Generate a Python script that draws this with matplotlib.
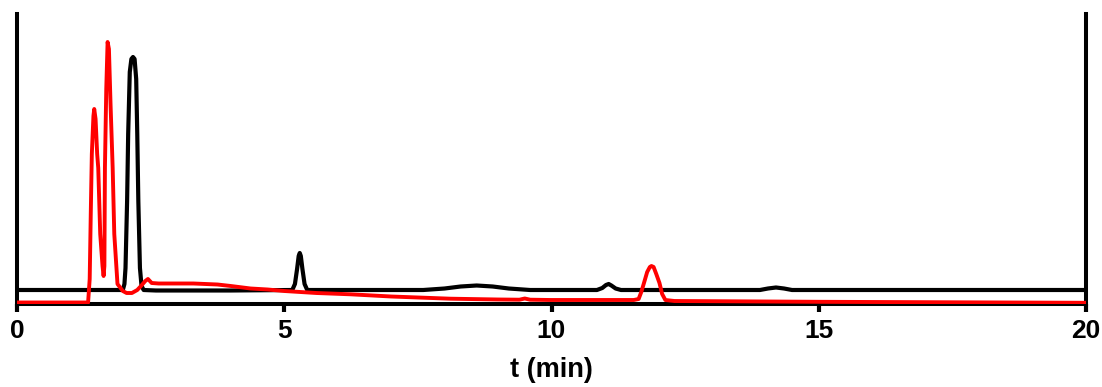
import matplotlib
matplotlib.use("Agg")
import matplotlib.pyplot as plt

# Black trace (time in min, signal in arbitrary units)
black_t = [0.0, 1.98, 2.01, 2.03, 2.06, 2.08, 2.11, 2.14, 2.17, 2.20, 2.23, 2.25, 2.27, 2.30, 2.33, 2.37,
           2.6, 4.0, 5.15, 5.20, 5.24, 5.27, 5.29, 5.31, 5.34, 5.38, 5.43,
           7.6, 8.0, 8.3, 8.6, 8.9, 9.2, 9.6,
           10.85, 10.95, 11.02, 11.07, 11.12, 11.2, 11.3,
           13.9, 14.05, 14.2, 14.35, 14.5, 20.0]
black_y = [14, 14, 20, 36, 103, 170, 232, 245, 247, 245, 225, 170, 103, 36, 18, 14,
           13.5, 13.5, 14, 20, 35, 48, 51, 48, 35, 20, 14,
           14, 15.5, 17.5, 18.5, 17.5, 15.5, 14,
           14, 16, 19, 20, 18.5, 15.5, 14,
           14, 15.5, 16.5, 15.5, 14, 14]

# Red trace
red_t = [0.0, 1.33, 1.36, 1.38, 1.40, 1.43, 1.445, 1.47, 1.50, 1.52, 1.557, 1.60, 1.62, 1.635, 1.645, 1.67,
         1.695, 1.72, 1.75, 1.79, 1.82, 1.88, 1.98, 2.05, 2.15, 2.25, 2.32, 2.40, 2.45, 2.52, 2.65,
         2.8, 3.3, 3.75, 4.0, 4.37, 4.69, 5.0, 5.6, 6.24, 7.0, 8.11, 9.0, 9.4, 9.5, 9.6, 9.98, 11.0, 11.54,
         11.63, 11.68, 11.73, 11.79, 11.84, 11.87, 11.91, 11.96, 12.02, 12.07, 12.13, 12.3, 13.0, 15.0, 20.0]
red_y = [1.5, 1.5, 25, 90, 150, 188, 195, 185, 150, 136, 70, 38, 28, 38, 136, 215,
         262, 255, 200, 136, 70, 20, 13, 11, 11, 14, 18, 23, 25, 21, 20.5,
         20.5, 20.5, 19.5, 18, 15.5, 14.5, 13, 11, 9.7, 7.5, 5.3, 4.5, 4.3, 5.5, 4.3, 4, 4, 4,
         5, 12, 21, 32, 37, 38, 37, 30, 21, 10, 4, 3, 2.8, 2.2, 1.2]

x_ticks = [0, 5, 10, 15, 20]
x_label = "t (min)"

fig = plt.figure(figsize=(11.02, 3.87), dpi=100)
ax = fig.add_axes([17 / 1102, (387 - 304) / 387, (1086 - 17) / 1102, 290 / 387])

ax.plot(black_t, black_y, color="black", lw=3.0, zorder=2, solid_joinstyle="round")
ax.plot(red_t, red_y, color="#ff0000", lw=2.8, zorder=3, solid_joinstyle="round")

ax.set_xlim(0, 20)
ax.set_ylim(0, 290)
ax.spines["top"].set_visible(False)
for s in ["left", "right", "bottom"]:
    ax.spines[s].set_linewidth(2.9)
    ax.spines[s].set_color("black")
ax.set_yticks([])
ax.set_xticks(x_ticks)
ax.set_xticklabels([str(v) for v in x_ticks], fontfamily="Liberation Sans",
                   fontweight="bold", fontsize=19)
ax.tick_params(axis="x", direction="out", length=5.5, width=3, pad=5.5)
ax.set_xlabel(x_label, fontfamily="Liberation Sans", fontweight="bold", fontsize=19.5, labelpad=10)

fig.savefig("out.png", dpi=100)
